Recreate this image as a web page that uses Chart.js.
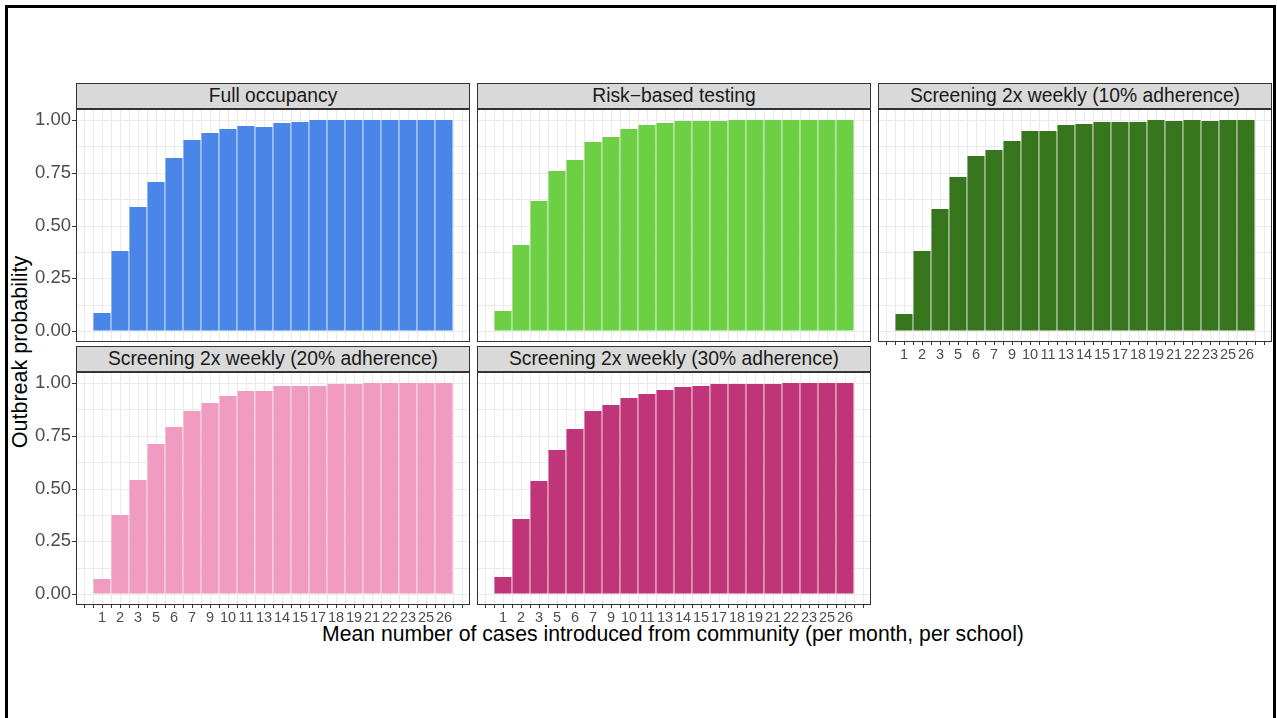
<!DOCTYPE html>
<html>
<head>
<meta charset="utf-8">
<script src="https://cdn.jsdelivr.net/npm/chart.js@4.4.1/dist/chart.umd.min.js"></script>
<style>
  body { margin: 0; background: #fff; width: 1277px; height: 718px; overflow: hidden; position: relative;
         font-family: "Liberation Sans", Arial, sans-serif; }
  .frame { position: absolute; left: 5px; top: 5px; width: 1271px; height: 800px; border: 3px solid #000; box-sizing: border-box; }
  canvas { position: absolute; }
  .strip { position: absolute; height: 26px; background: #d9d9d9; border: 1px solid #333; box-sizing: border-box;
           text-align: center; font-size: 19.3px; line-height: 24px; color: #1a1a1a; white-space: nowrap; }
  .ytitle { position: absolute; left: 20px; top: 352px; transform: translate(-50%, -50%) rotate(-90deg);
            font-size: 21.5px; white-space: nowrap; color: #000; }
  .xtitle { position: absolute; left: 673px; top: 634px; transform: translate(-50%, -50%);
            font-size: 21.2px; white-space: nowrap; color: #000; }
</style>
</head>
<body>
<div class="frame"></div>
<div class="ytitle">Outbreak probability</div>
<div class="xtitle">Mean number of cases introduced from community (per month, per school)</div>

<script>
const categories = ["1", "2", "3", "5", "6", "7", "9", "10", "11", "13", "14", "15", "17", "18", "19", "21", "22", "23", "25", "26"];

const fullOccupancy = [0.085, 0.379, 0.588, 0.706, 0.820, 0.904, 0.938, 0.956, 0.972, 0.965, 0.984, 0.989, 0.998, 0.998, 0.998, 1.0, 1.0, 1.0, 0.998, 0.998];
const riskBased = [0.098, 0.410, 0.615, 0.758, 0.809, 0.894, 0.918, 0.956, 0.975, 0.984, 0.994, 0.994, 0.994, 0.998, 0.998, 0.998, 1.0, 1.0, 1.0, 1.0];
const screening10 = [0.083, 0.381, 0.580, 0.731, 0.830, 0.858, 0.900, 0.948, 0.948, 0.976, 0.981, 0.990, 0.990, 0.990, 1.0, 0.995, 1.0, 0.995, 1.0, 1.0];
const screening20 = [0.075, 0.373, 0.538, 0.709, 0.789, 0.868, 0.906, 0.939, 0.962, 0.962, 0.986, 0.986, 0.986, 0.995, 0.995, 1.0, 1.0, 1.0, 1.0, 1.0];
const screening30 = [0.080, 0.358, 0.535, 0.684, 0.783, 0.868, 0.892, 0.925, 0.948, 0.967, 0.981, 0.986, 0.991, 0.995, 0.995, 0.995, 1.0, 1.0, 1.0, 1.0];

const yGrid = [0, 0.125, 0.25, 0.375, 0.5, 0.625, 0.75, 0.875, 1.0];
const yTickLabels = { 0: "0.00", 0.25: "0.25", 0.5: "0.50", 0.75: "0.75", 1: "1.00" };

// facet layout (ggplot facet_wrap, 3 columns)
const panels = [
  { title: "Full occupancy", data: fullOccupancy, color: "#4a86e8", col: 0, row: 0, yAxis: true, xAxis: false },
  { title: "Risk\u2212based testing", data: riskBased, color: "#6ccf44", col: 1, row: 0, yAxis: false, xAxis: false },
  { title: "Screening 2x weekly (10% adherence)", data: screening10, color: "#38761d", col: 2, row: 0, yAxis: false, xAxis: true },
  { title: "Screening 2x weekly (20% adherence)", data: screening20, color: "#f09bc0", col: 0, row: 1, yAxis: true, xAxis: true },
  { title: "Screening 2x weekly (30% adherence)", data: screening30, color: "#c0357a", col: 1, row: 1, yAxis: false, xAxis: true },
];

const colLeft = [76, 477, 878];
const rowTop = [109, 372];
const panelW = 394, panelH = 233, stripH = 26, pad = 14;

// grid every half category, like the major+minor grid in ggplot
const xGrid = [];
for (let v = -1; v <= categories.length; v += 0.5) xGrid.push(v);

Chart.defaults.font.family = '"Liberation Sans", Arial, sans-serif';
Chart.defaults.animation = false;

const panelBorder = {
  id: 'panelBorder',
  afterDraw(chart) {
    const a = chart.chartArea;
    const ctx = chart.ctx;
    ctx.save();
    ctx.strokeStyle = '#333333';
    ctx.lineWidth = 1;
    ctx.strokeRect(Math.round(a.left) + 0.5, Math.round(a.top) + 0.5, Math.round(a.right - a.left) - 1, Math.round(a.bottom - a.top) - 1);
    ctx.restore();
  }
};

panels.forEach(p => {
  const yw = p.yAxis ? 50 : 0;
  const xh = p.xAxis ? 22 : 0;
  const left = colLeft[p.col];
  const top = rowTop[p.row];

  const canvas = document.createElement('canvas');
  const w = pad + yw + panelW + pad;
  const h = pad + panelH + xh + pad;
  canvas.width = w; canvas.height = h;
  canvas.style.width = w + 'px'; canvas.style.height = h + 'px';
  canvas.style.left = (left - yw - pad) + 'px';
  canvas.style.top = (top - pad) + 'px';
  document.body.appendChild(canvas);

  new Chart(canvas, {
    type: 'bar',
    data: {
      datasets: [{
        data: p.data.map((v, i) => ({ x: i, y: v })),
        backgroundColor: p.color,
        borderWidth: 0,
        // ruler takes the half-step grid ticks as spacing, so 1.9 -> 95% of a category
        barPercentage: 1.9,
        categoryPercentage: 1,
      }]
    },
    options: {
      responsive: false,
      layout: { padding: pad },
      plugins: { legend: { display: false }, tooltip: { enabled: false } },
      scales: {
        x: {
          type: 'linear',
          offset: false,
          min: -1.46,
          max: categories.length - 1 + 1.46,
          alignToPixels: true,
          afterBuildTicks: axis => { axis.ticks = xGrid.map(v => ({ value: v })); },
          afterFit: scale => { scale.height = xh; },
          border: { display: false },
          grid: { offset: false, color: '#ebebeb', lineWidth: 1, drawTicks: p.xAxis, tickLength: 3, tickColor: '#333333' },
          ticks: {
            display: p.xAxis,
            autoSkip: false,
            maxRotation: 0,
            padding: 1,
            color: '#4d4d4d',
            font: { size: 14.5 },
            callback: v => (Number.isInteger(v) && v >= 0 && v < categories.length) ? categories[v] : ''
          }
        },
        y: {
          min: -0.05,
          max: 1.05,
          alignToPixels: true,
          afterBuildTicks: axis => { axis.ticks = yGrid.map(v => ({ value: v })); },
          afterFit: scale => { scale.width = yw; },
          border: { display: false },
          grid: {
            color: '#ebebeb', lineWidth: 1, drawTicks: p.yAxis, tickLength: 4,
            tickColor: ctx => (ctx.tick && yTickLabels[ctx.tick.value] !== undefined) ? '#333333' : 'rgba(0,0,0,0)'
          },
          ticks: {
            display: p.yAxis,
            padding: 1,
            color: '#4d4d4d',
            font: { size: 18.5 },
            callback: v => yTickLabels[v] !== undefined ? yTickLabels[v] : ''
          }
        }
      }
    },
    plugins: [panelBorder]
  });

  const strip = document.createElement('div');
  strip.className = 'strip';
  strip.style.left = left + 'px';
  strip.style.top = (top - stripH) + 'px';
  strip.style.width = panelW + 'px';
  strip.textContent = p.title;
  document.body.appendChild(strip);
});
</script>
</body>
</html>
